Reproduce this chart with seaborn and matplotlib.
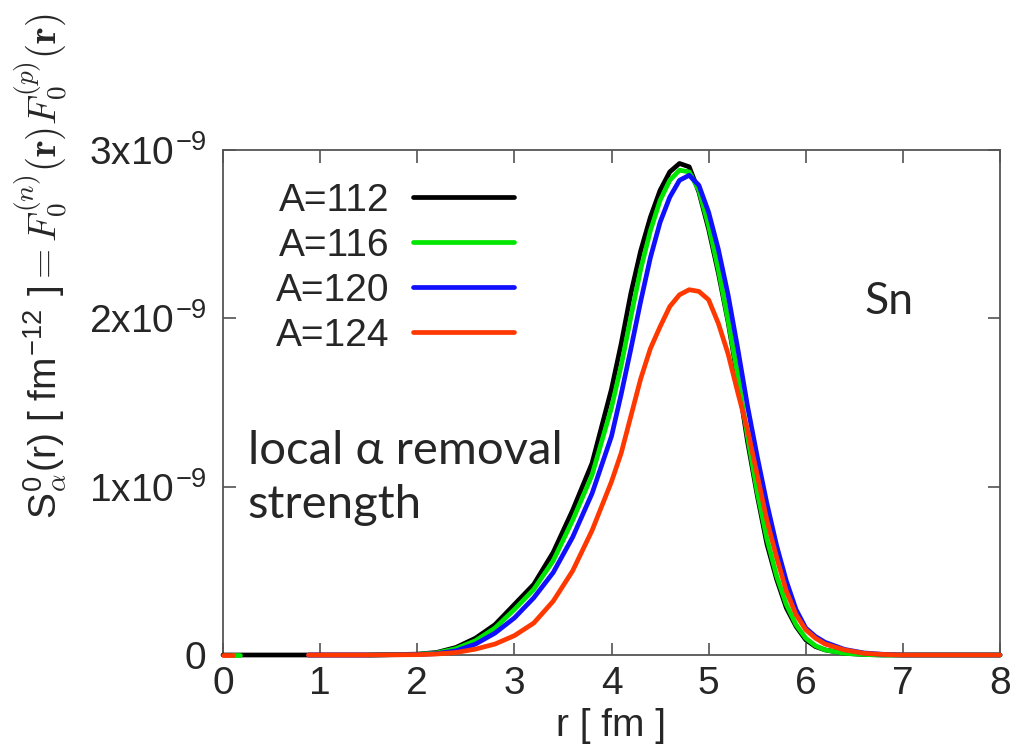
import numpy as np
import pandas as pd
import matplotlib
matplotlib.use('Agg')
import matplotlib.pyplot as plt
from matplotlib.lines import Line2D
from matplotlib.ticker import FuncFormatter
import seaborn as sns

# radial grid [fm] and S_alpha^0(r) for each isotope, in units of 1e-9 fm^-12
# (nan = no line drawn there)
r = [0.0, 0.1, 0.17, 0.88, 1.5, 2.0, 2.2, 2.4, 2.6, 2.8, 3.0, 3.2, 3.4, 3.6, 3.8,
     4.0, 4.1, 4.2, 4.3, 4.4, 4.5, 4.6, 4.7, 4.8, 4.9, 5.0, 5.1, 5.2, 5.3, 5.4,
     5.5, 5.6, 5.7, 5.8, 5.9, 6.0, 6.1, 6.2, 6.4, 6.6, 6.8, 7.0, 8.0]
nan = np.nan
s_112 = [0, 0, 0, 0, 0, 0.005, 0.015, 0.045, 0.10, 0.18, 0.30, 0.42, 0.61, 0.86, 1.14,
         1.58, 1.85, 2.15, 2.40, 2.60, 2.76, 2.87, 2.92, 2.90, 2.75, 2.53, 2.27, 1.98, 1.64, 1.27,
         0.95, 0.66, 0.45, 0.28, 0.17, 0.09, 0.05, 0.03, 0.01, 0.003, 0, 0, 0]
s_116 = [nan, 0, 0, nan, 0, 0.004, 0.012, 0.038, 0.085, 0.16, 0.27, 0.39, 0.56, 0.80, 1.07,
         1.47, 1.72, 2.01, 2.29, 2.52, 2.70, 2.82, 2.88, 2.87, 2.76, 2.55, 2.29, 1.99, 1.66, 1.30,
         0.97, 0.69, 0.47, 0.30, 0.18, 0.10, 0.055, 0.03, 0.01, 0.003, 0, 0, 0]
s_120 = [nan, nan, nan, 0, 0, 0.003, 0.008, 0.025, 0.065, 0.13, 0.22, 0.34, 0.49, 0.70, 0.96,
         1.30, 1.55, 1.82, 2.10, 2.36, 2.57, 2.72, 2.82, 2.85, 2.79, 2.63, 2.41, 2.14, 1.82, 1.48,
         1.18, 0.90, 0.65, 0.44, 0.27, 0.16, 0.11, 0.075, 0.033, 0.012, 0.004, 0, 0]
s_124 = [0, 0, nan, 0, 0, 0.002, 0.006, 0.015, 0.035, 0.065, 0.115, 0.19, 0.32, 0.50, 0.74,
         1.03, 1.20, 1.42, 1.64, 1.82, 1.95, 2.07, 2.14, 2.17, 2.16, 2.11, 1.97, 1.79, 1.56, 1.34,
         1.07, 0.80, 0.58, 0.38, 0.24, 0.15, 0.10, 0.065, 0.03, 0.01, 0.003, 0, 0]

labels = ['A=112', 'A=116', 'A=120', 'A=124']
colors = ['#000000', '#00e600', '#1010ff', '#ff3800']
series = [s_112, s_116, s_120, s_124]
scale = 1e-9

rows = []
for lab, vals in zip(labels, series):
    seg = 0
    for x, v in zip(r, vals):
        if np.isnan(v):
            seg += 1
            continue
        rows.append({'r': x, 'S': v * scale, 'A': lab, 'seg': seg})
df = pd.DataFrame(rows)

sns.set_style('ticks')
plt.rcParams['font.family'] = ['Liberation Sans', 'DejaVu Sans']
plt.rcParams['mathtext.fontset'] = 'cm'

fig = plt.figure(figsize=(10.3, 7.53), dpi=100)
ax = fig.add_axes([223 / 1030, 1 - 655 / 753, 777 / 1030, 505 / 753])

sns.lineplot(data=df, x='r', y='S', hue='A', units='seg', estimator=None,
             hue_order=labels, palette=colors, lw=3.4, legend=False,
             clip_on=False, zorder=3, ax=ax)

ax.set_xlim(0, 8)
ax.set_ylim(0, 3e-9)
ax.set_xticks(range(0, 9))
ax.set_yticks([0, 1e-9, 2e-9, 3e-9])


def yfmt(v, pos):
    n = int(round(v / 1e-9))
    if n == 0:
        return '0'
    return r'%dx10$^{\mathregular{-9}}$' % n


ax.yaxis.set_major_formatter(FuncFormatter(yfmt))
ax.tick_params(direction='in', length=9, width=1.1, color='#444444',
               top=True, right=True, labelsize=28, pad=8)
ax.tick_params(axis='y', pad=12)
for sp in ax.spines.values():
    sp.set_color('#555555')
    sp.set_linewidth(1.3)

ax.set_xlabel('r [ fm ]', fontsize=28, labelpad=4)
ax.set_ylabel(r'S$^{\mathregular{0}}_{\alpha}$(r) [ fm$^{\mathregular{-12}}$ ]'
              r'$= F_0^{(n)}(\mathbf{r})F_0^{(p)}(\mathbf{r})$', fontsize=28)
ax.yaxis.set_label_coords(-0.198, 0.77)

handles = [Line2D([], [], color=c, lw=3.4) for c in colors]
ax.legend(handles, labels, loc='upper left', bbox_to_anchor=(0.068, 0.935),
          frameon=False, markerfirst=False, fontsize=28, handlelength=2.6,
          handletextpad=0.6, labelspacing=0.23, borderpad=0, borderaxespad=0)

ax.text(0.826, 0.70, 'Sn', transform=ax.transAxes, fontsize=32,
        family=['Lato', 'DejaVu Sans'], va='center', ha='left')
ax.text(0.032, 0.446, 'local \u03b1 removal\nstrength', transform=ax.transAxes,
        fontsize=34, family=['Lato', 'DejaVu Sans'], va='top', ha='left',
        linespacing=1.36)

fig.savefig('out.png', dpi=100)
